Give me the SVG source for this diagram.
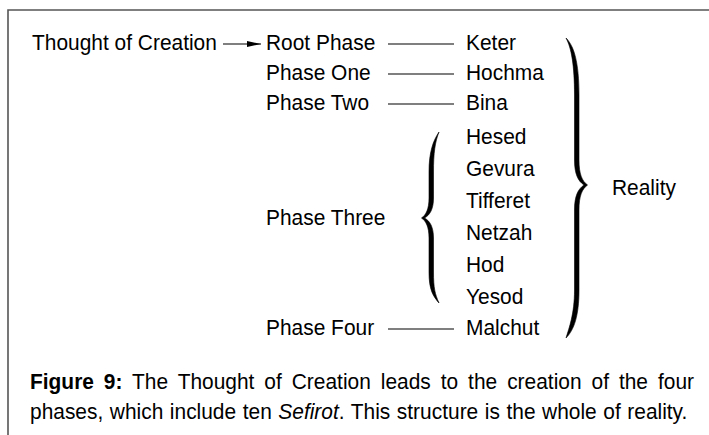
<svg xmlns="http://www.w3.org/2000/svg" width="709" height="435" viewBox="0 0 709 435">
<defs>
<style>
text{font-family:"Liberation Sans",Arial,sans-serif;font-size:22.5px;fill:#000}
.ln{stroke:#000;stroke-width:1.2;fill:none}
.brace{fill:#000;stroke:#000;stroke-width:0.6}
.frame{stroke:#555;stroke-width:1.6;fill:none}
</style>
<marker id="ah" viewBox="0 0 14 6" refX="14" refY="3" markerWidth="14" markerHeight="6" markerUnits="userSpaceOnUse" orient="auto">
<path d="M0,0 L14,3 L0,6 Z" fill="#000"/>
</marker>
</defs>
<rect width="709" height="435" fill="#fff"/>
<path class="frame" d="M8,435 L8,10 L709,10"/>
<g id="connectors">
<line class="ln" x1="223" y1="44" x2="261" y2="44" marker-end="url(#ah)"/>
<line class="ln" x1="388" y1="44" x2="454" y2="44"/>
<line class="ln" x1="388" y1="74" x2="454" y2="74"/>
<line class="ln" x1="388" y1="104" x2="454" y2="104"/>
<line class="ln" x1="388" y1="329" x2="454" y2="329"/>
</g>
<g id="thought"><text transform="translate(32,50) scale(0.93,1)">Thought of Creation</text></g>
<g id="root-phase"><text transform="translate(266,50) scale(0.93,1)">Root Phase</text></g>
<g id="phase-one"><text transform="translate(266,80) scale(0.93,1)">Phase One</text></g>
<g id="phase-two"><text transform="translate(266,110) scale(0.93,1)">Phase Two</text></g>
<g id="phase-three"><text transform="translate(266,225) scale(0.93,1)">Phase Three</text></g>
<g id="phase-four"><text transform="translate(266,335) scale(0.93,1)">Phase Four</text></g>
<g id="keter"><text transform="translate(466,50) scale(0.93,1)">Keter</text></g>
<g id="hochma"><text transform="translate(466,80) scale(0.93,1)">Hochma</text></g>
<g id="bina"><text transform="translate(466,110) scale(0.93,1)">Bina</text></g>
<g id="hesed"><text transform="translate(466,144) scale(0.93,1)">Hesed</text></g>
<g id="gevura"><text transform="translate(466,176) scale(0.93,1)">Gevura</text></g>
<g id="tifferet"><text transform="translate(466,208) scale(0.93,1)">Tifferet</text></g>
<g id="netzah"><text transform="translate(466,240) scale(0.93,1)">Netzah</text></g>
<g id="hod"><text transform="translate(466,272) scale(0.93,1)">Hod</text></g>
<g id="yesod"><text transform="translate(466,304) scale(0.93,1)">Yesod</text></g>
<g id="malchut"><text transform="translate(466,335) scale(0.93,1)">Malchut</text></g>
<g id="reality"><text transform="translate(612,195) scale(0.93,1)">Reality</text></g>
<g id="brace-three">
<path class="brace" d="M439,132 C433,141 429,152 429,172 L429,198 C429,209 426,215 421.5,218 C426,221 429,227 429,238 L429,272 C429,290 433,296 439,303 C435,294 433.5,288 433.5,272 L433.5,238 C433.5,227 430,221 424.5,218 C430,215 433.5,209 433.5,198 L433.5,172 C433.5,153 435,142 439,132 Z"/>
</g>
<g id="brace-reality">
<path class="brace" d="M566,38 C574,46 579,62 579,95 L579,160 C579,174 582,181 587.5,185 C582,189 579,196 579,210 L579,290 C579,316 574,330 566,338 C569,328 574.5,314 574.5,290 L574.5,210 C574.5,196 578,189 584,185 C578,181 574.5,174 574.5,160 L574.5,95 C574.5,66 571.5,48 566,38 Z"/>
</g>
<g id="caption">
<text transform="translate(30,389) scale(0.93,1)" style="word-spacing:4.45px"><tspan font-weight="bold">Figure 9:</tspan> The Thought of Creation leads to the creation of the four</text>
<text transform="translate(30,419) scale(0.93,1)" style="word-spacing:0.8px">phases, which include ten <tspan font-style="italic">Sefirot</tspan>. This structure is the whole of reality.</text>
</g>
</svg>
